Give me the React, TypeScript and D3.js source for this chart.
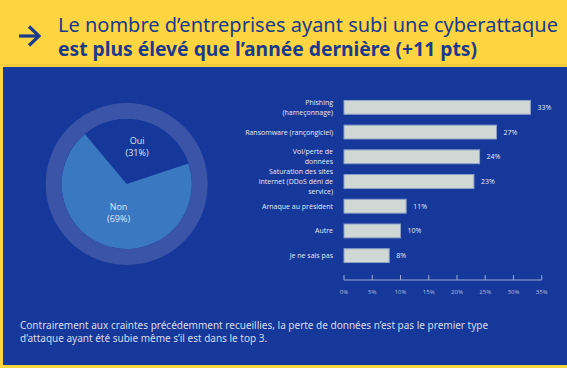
import React from "react";
import * as d3 from "d3";

const pieLabels = ["Oui", "Non"];
const pieValues = [31, 69];

const categories = [
  ["Phishing", "(hameçonnage)"],
  ["Ransomware (rançongiciel)"],
  ["Vol/perte de", "données"],
  ["Saturation des sites", "internet (DDoS déni de", "service)"],
  ["Arnaque au président"],
  ["Autre"],
  ["Je ne sais pas"],
];
const values = [33, 27, 24, 23, 11, 10, 8];
const ticks = [0, 5, 10, 15, 20, 25, 30, 35];

const W = 567;
const H = 368;
const YELLOW = "#fdd540";
const BLUE = "#15389a";
const DARK = "#1b3a8c";

const App = () => {
  const keys = categories.map((c) => c.join(" "));

  const x = d3.scaleLinear().domain([0, 35]).range([344, 541.7]);
  const y = d3
    .scaleBand()
    .domain(keys)
    .range([95, 268])
    .paddingInner(0.44)
    .paddingOuter(0.22);

  const cx = 126.7;
  const cy = 184;
  const pie = d3
    .pie<number>()
    .sort(null)
    .startAngle((-40 * Math.PI) / 180)
    .endAngle((320 * Math.PI) / 180);
  const arcs = pie(pieValues);
  const arc = d3.arc<d3.PieArcDatum<number>>().innerRadius(0).outerRadius(65);
  const pieColors = [BLUE, "#3b78c2"];
  const labelR = [38, 30];

  const axisY = 280;

  return (
    <svg
      width={W}
      height={H}
      style={{ position: "absolute", left: 0, top: 0, display: "block" }}
    >
      <rect x={0} y={0} width={W} height={H} fill={YELLOW} />
      <line x1={0} x2={W} y1={65} y2={65} stroke="#e8c23a" strokeWidth={1} />
      <rect x={3} y={67} width={W - 3} height={298} fill={BLUE} />

      {/* header */}
      <g stroke={DARK} strokeWidth={3.2} fill="none">
        <line x1={19} x2={38} y1={36} y2={36} />
        <polyline points="29,26.5 39,36 29,45.5" />
      </g>
      <text
        x={58}
        y={31.5}
        fontFamily="'Noto Sans', sans-serif"
        fontSize={20}
        fill={DARK}
      >
        Le nombre d’entreprises ayant subi une cyberattaque
      </text>
      <text
        x={58}
        y={56}
        fontFamily="'Noto Sans', sans-serif"
        fontSize={19.3}
        fontWeight="bold"
        fill={DARK}
      >
        est plus élevé que l’année dernière (+11 pts)
      </text>

      {/* pie */}
      <circle cx={cx} cy={cy} r={73} fill="none" stroke="#3a55a8" strokeWidth={16} />
      <g transform={`translate(${cx},${cy})`}>
        {arcs.map((a, i) => (
          <path key={pieLabels[i]} d={arc(a) ?? ""} fill={pieColors[i]} />
        ))}
      </g>
      {arcs.map((a, i) => {
        const [lx, ly] = d3
          .arc<d3.PieArcDatum<number>>()
          .innerRadius(labelR[i])
          .outerRadius(labelR[i])
          .centroid(a);
        const tx = cx + lx;
        const ty = cy + ly;
        return (
          <g key={pieLabels[i]}>
            <text
              x={tx}
              y={ty - 3}
              textAnchor="middle"
              fontFamily="'Open Sans', sans-serif"
              fontSize={9}
              fill="#dfe4f2"
            >
              {pieLabels[i]}
            </text>
            <text
              x={tx}
              y={ty + 9}
              textAnchor="middle"
              fontFamily="'Open Sans', sans-serif"
              fontSize={9}
              fill="#dfe4f2"
            >
              ({pieValues[i]}%)
            </text>
          </g>
        );
      })}

      {/* bars */}
      {keys.map((k, i) => {
        const y0 = y(k) ?? 0;
        const mid = y0 + y.bandwidth() / 2;
        const lines = categories[i];
        return (
          <g key={k}>
            <rect
              x={x(0)}
              y={y0}
              width={x(values[i]) - x(0)}
              height={y.bandwidth()}
              fill="#cfd8d4"
              stroke="#8fa1c9"
              strokeWidth={1}
            />
            <text
              x={x(values[i]) + 7}
              y={mid}
              dy="0.35em"
              fontFamily="'Open Sans', sans-serif"
              fontSize={7}
              fill="#e6e9f2"
            >
              {values[i]}%
            </text>
            {lines.map((l, j) => (
              <text
                key={l}
                x={333}
                y={mid + (j - (lines.length - 1) / 2) * 10}
                dy="0.35em"
                textAnchor="end"
                fontFamily="'Open Sans', sans-serif"
                fontSize={7}
                fill="#e6e9f2"
              >
                {l}
              </text>
            ))}
          </g>
        );
      })}

      {/* axis */}
      <g stroke="#9aa8d2" strokeWidth={1}>
        <line x1={x(0)} x2={x(35)} y1={axisY} y2={axisY} />
        {ticks.map((t) => (
          <line key={t} x1={x(t)} x2={x(t)} y1={axisY} y2={axisY - 5} />
        ))}
      </g>
      {ticks.map((t) => (
        <text
          key={t}
          x={x(t)}
          y={axisY + 12}
          dy="0.35em"
          textAnchor="middle"
          fontFamily="'Open Sans', sans-serif"
          fontSize={6}
          fill="#b4bedc"
        >
          {t}%
        </text>
      ))}

      {/* footer */}
      <text x={20} y={328.5} fontFamily="'Noto Sans', sans-serif" fontSize={10} fill="#d8dcea">
        Contrairement aux craintes précédemment recueillies, la perte de données n’est pas le premier type
      </text>
      <text x={20} y={341.5} fontFamily="'Noto Sans', sans-serif" fontSize={10} fill="#d8dcea">
        d’attaque ayant été subie même s’il est dans le top 3.
      </text>
    </svg>
  );
};

export default App;
